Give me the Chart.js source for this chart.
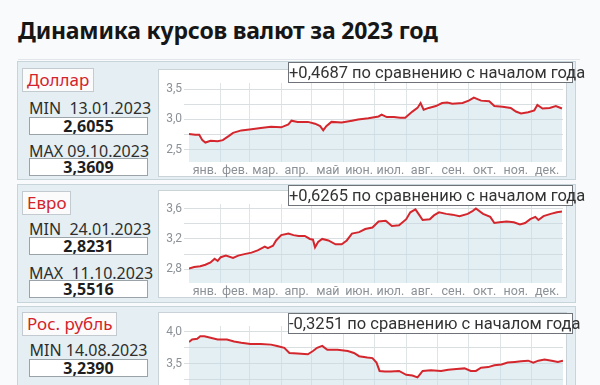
<!DOCTYPE html>
<html lang="ru">
<head>
<meta charset="utf-8">
<script src="https://cdn.jsdelivr.net/npm/chart.js@4/dist/chart.umd.min.js"></script>
<style>
  html, body { margin: 0; padding: 0; }
  body { width: 600px; height: 385px; overflow: hidden; background: #f9fafb; position: relative; font-family: "Noto Sans", sans-serif; color: #2b2b2b; }
  .title { position: absolute; left: 18px; top: 14px; font-size: 23px; font-weight: 700; color: #161616; letter-spacing: -0.2px; }
  .rule { position: absolute; left: 18px; top: 59px; width: 562px; height: 1px; background: #e2e6ea; }
  .panel { position: absolute; left: 17px; width: 559px; height: 119px; background: #e5eef2; border: 1px solid #c7d4da; box-sizing: border-box; }
  .tag { position: absolute; left: 22px; height: 24px; padding: 0 4px; background: #fbfbfb; border: 1px solid #c3cbd0; box-sizing: border-box; color: #d3232b; font-size: 17px; line-height: 22px; }
  .cap { position: absolute; left: 29px; width: 119px; text-align: center; font-size: 16px; line-height: 18px; color: #2e2e2e; white-space: pre; }
  .val { position: absolute; left: 29px; width: 119px; height: 18px; background: #fff; border: 1px solid #9aa3a8; box-sizing: border-box; text-align: center; font-size: 16px; font-weight: 700; line-height: 16px; color: #1e1e1e; }
  .box { position: absolute; left: 158px; width: 409px; height: 108px; background: #fff; border: 1px solid #c9d3d8; box-sizing: border-box; }
  .box canvas { position: absolute; left: 0; top: 0; }
  .note { position: absolute; left: 288px; width: 285px; height: 21px; background: #fff; border: 1px solid #6d7378; box-sizing: border-box; font-family: Roboto, sans-serif; font-size: 16.5px; line-height: 19px; text-align: center; color: #333; white-space: nowrap; }
</style>
</head>
<body>
<div class="title">Динамика курсов валют за 2023 год</div>
<div class="rule"></div>

<div class="panel" style="top:61px"></div>
<div class="tag" style="top:68px">Доллар</div>
<div class="cap" style="top:99px">MIN  13.01.2023</div>
<div class="val" style="top:117px">2,6055</div>
<div class="cap" style="top:142px">MAX 09.10.2023</div>
<div class="val" style="top:158px">3,3609</div>
<div class="box" style="top:69px"><canvas id="usdChart" width="409" height="108"></canvas></div>
<div class="note" style="top:62px">+0,4687 по сравнению с началом года</div>

<div class="panel" style="top:184px"></div>
<div class="tag" style="top:191px">Евро</div>
<div class="cap" style="top:220px">MIN  24.01.2023</div>
<div class="val" style="top:237px">2,8231</div>
<div class="cap" style="top:264px">MAX  11.10.2023</div>
<div class="val" style="top:280px">3,5516</div>
<div class="box" style="top:190px"><canvas id="eurChart" width="409" height="108"></canvas></div>
<div class="note" style="top:185px">+0,6265 по сравнению с началом года</div>

<div class="panel" style="top:306px"></div>
<div class="tag" style="top:312px">Рос. рубль</div>
<div class="cap" style="top:341px">MIN 14.08.2023</div>
<div class="val" style="top:359px">3,2390</div>
<div class="box" style="top:312px"><canvas id="rubChart" width="409" height="108"></canvas></div>
<div class="note" style="top:313px">-0,3251 по сравнению с началом года</div>

<script>
const months = ["янв.", "фев.", "мар.", "апр.", "май", "июн.", "июл.", "авг.", "сен.", "окт.", "ноя.", "дек."];
const monthStarts = [0, 31, 59, 90, 120, 151, 181, 212, 243, 273, 304, 334, 365];

const usdDays = [0, 6, 10, 13, 16, 21, 28, 33, 39, 43, 51, 61, 70, 80, 90, 97, 100, 106, 116, 123, 128, 131, 134, 139, 149, 159, 165, 175, 185, 188, 193, 200, 206, 211, 218, 223, 226, 229, 234, 241, 247, 252, 257, 267, 273, 278, 285, 293, 298, 306, 314, 319, 324, 331, 337, 340, 345, 352, 358, 364];
const usdValues = [2.76, 2.75, 2.75, 2.66, 2.62, 2.65, 2.64, 2.66, 2.73, 2.78, 2.82, 2.84, 2.86, 2.88, 2.87, 2.92, 2.98, 2.96, 2.96, 2.93, 2.89, 2.82, 2.89, 2.96, 2.95, 2.98, 3.00, 3.02, 3.05, 3.08, 3.04, 3.04, 3.03, 3.03, 3.13, 3.19, 3.27, 3.16, 3.19, 3.22, 3.27, 3.28, 3.26, 3.27, 3.31, 3.36, 3.31, 3.30, 3.22, 3.21, 3.19, 3.13, 3.10, 3.12, 3.15, 3.24, 3.18, 3.19, 3.22, 3.18];

const eurDays = [0, 5, 11, 16, 21, 25, 28, 31, 36, 43, 48, 54, 61, 67, 74, 77, 82, 85, 90, 97, 102, 107, 113, 118, 121, 123, 126, 130, 136, 143, 149, 154, 159, 166, 172, 179, 185, 192, 198, 205, 212, 216, 221, 225, 228, 235, 239, 244, 251, 257, 264, 272, 277, 280, 287, 294, 298, 303, 310, 317, 323, 328, 333, 338, 341, 346, 353, 359, 364];
const eurValues = [2.81, 2.83, 2.84, 2.86, 2.89, 2.94, 2.91, 2.96, 2.98, 2.95, 2.98, 3.00, 3.02, 3.05, 3.10, 3.08, 3.11, 3.18, 3.25, 3.27, 3.25, 3.24, 3.24, 3.20, 3.19, 3.09, 3.16, 3.20, 3.18, 3.13, 3.13, 3.18, 3.27, 3.29, 3.33, 3.35, 3.43, 3.44, 3.37, 3.38, 3.46, 3.55, 3.59, 3.51, 3.45, 3.46, 3.51, 3.55, 3.53, 3.52, 3.50, 3.53, 3.57, 3.60, 3.53, 3.49, 3.41, 3.42, 3.43, 3.42, 3.39, 3.41, 3.46, 3.49, 3.45, 3.50, 3.53, 3.55, 3.56];

const rubDays = [0, 3, 8, 11, 15, 20, 28, 37, 44, 51, 60, 70, 80, 86, 93, 98, 106, 116, 121, 125, 130, 135, 145, 155, 161, 166, 174, 179, 183, 186, 191, 197, 205, 212, 218, 223, 225, 228, 236, 246, 253, 261, 269, 275, 280, 285, 292, 298, 305, 311, 318, 324, 331, 336, 341, 347, 354, 360, 365];
const rubValues = [3.84, 3.88, 3.89, 3.93, 3.93, 3.91, 3.88, 3.88, 3.85, 3.83, 3.81, 3.81, 3.80, 3.78, 3.75, 3.67, 3.66, 3.65, 3.70, 3.75, 3.78, 3.72, 3.72, 3.70, 3.67, 3.62, 3.60, 3.59, 3.52, 3.39, 3.38, 3.38, 3.39, 3.33, 3.32, 3.29, 3.33, 3.39, 3.40, 3.39, 3.41, 3.42, 3.43, 3.39, 3.39, 3.44, 3.45, 3.48, 3.49, 3.52, 3.53, 3.54, 3.55, 3.52, 3.55, 3.57, 3.55, 3.53, 3.55];

const usdTicks = [2.5, 2.75, 3.0, 3.25, 3.5];
const usdLabeled = [2.5, 3.0, 3.5];
const eurTicks = [2.8, 3.0, 3.2, 3.4, 3.6];
const eurLabeled = [2.8, 3.2, 3.6];
const rubTicks = [3.0, 3.25, 3.5, 3.75, 4.0];
const rubLabeled = [3.5, 4.0];

const monthMids = months.map((m, i) => (monthStarts[i] + monthStarts[i + 1]) / 2);

function drawRate(id, days, values, yMin, yMax, yTicks, yLabeled) {
	const points = days.map((d, i) => ({ x: d, y: values[i] }));
	new Chart(document.getElementById(id), {
		type: "line",
		data: {
			datasets: [{
				data: points,
				borderColor: "#d4262d",
				borderWidth: 2,
				pointRadius: 0,
				tension: 0,
				fill: "start",
				backgroundColor: "rgba(196, 219, 230, 0.45)",
			}],
		},
		options: {
			responsive: false,
			animation: false,
			layout: { autoPadding: false, padding: { top: 13, right: 5, left: 0, bottom: 0 } },
			plugins: { legend: { display: false }, tooltip: { enabled: false } },
			scales: {
				x: {
					type: "linear",
					min: 0,
					max: 365,
					afterBuildTicks: (scale) => {
						const all = monthStarts.slice(1, 12).concat(monthMids).sort((a, b) => a - b);
						scale.ticks = all.map((v) => ({ value: v }));
					},
					afterFit: (scale) => { scale.height = 16; },
					ticks: {
						autoSkip: false,
						maxRotation: 0,
						padding: 1,
						color: "#8b9196",
						font: { family: "Roboto", size: 12.5 },
						callback: (v) => {
							const i = monthMids.indexOf(v);
							return i >= 0 ? months[i] : "";
						},
					},
					grid: {
						drawTicks: false,
						color: (ctx) => (ctx.tick && monthStarts.includes(ctx.tick.value) ? "#dfe4e7" : "rgba(0,0,0,0)"),
					},
					border: { display: false },
				},
				y: {
					min: yMin,
					max: yMax,
					afterBuildTicks: (scale) => { scale.ticks = yTicks.map((v) => ({ value: v })); },
					afterFit: (scale) => { scale.width = 30; },
					ticks: {
						padding: 2,
						color: "#8b9196",
						font: { family: "Roboto", size: 12 },
						callback: (v) => (yLabeled.includes(v) ? v.toFixed(1).replace(".", ",") : ""),
					},
					grid: { color: "#d9dee1", tickLength: 5 },
					border: { display: false },
				},
			},
		},
	});
}

drawRate("usdChart", usdDays, usdValues, 2.3, 3.6, usdTicks, usdLabeled);
drawRate("eurChart", eurDays, eurValues, 2.62, 3.66, eurTicks, eurLabeled);
drawRate("rubChart", rubDays, rubValues, 2.86, 4.09, rubTicks, rubLabeled);
</script>
</body>
</html>
